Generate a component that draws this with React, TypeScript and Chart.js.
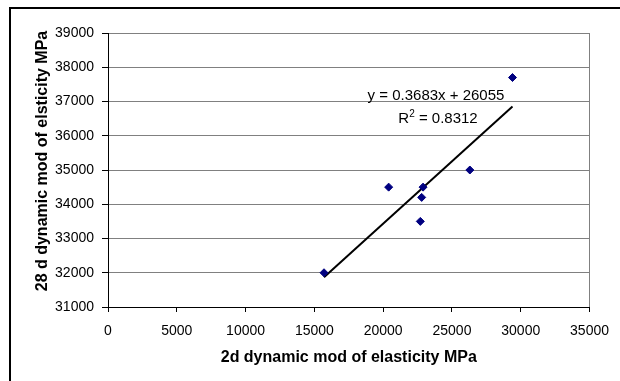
import React, { useEffect, useRef } from 'react';
import { Chart, registerables } from 'chart.js';

Chart.register(...registerables);

const xValues = [15700, 20400, 22900, 22800, 22700, 26300, 29400];
const yValues = [32000, 34500, 34500, 34200, 33500, 35000, 37700];
const xMin = 0;
const xMax = 35000;
const xStep = 5000;
const yMin = 31000;
const yMax = 39000;
const yStep = 1000;
const xAxisTitle = '2d dynamic mod of elasticity MPa';
const yAxisTitle = '28 d dynamic mod of elsticity MPa';
const equationText = 'y = 0.3683x + 26055';
const r2Text = '0.8312';

const FONT = "'Liberation Sans', Arial, sans-serif";

function fitLine(xs: number[], ys: number[]) {
  const n = xs.length;
  const mx = xs.reduce((a, b) => a + b, 0) / n;
  const my = ys.reduce((a, b) => a + b, 0) / n;
  let sxy = 0;
  let sxx = 0;
  for (let i = 0; i < n; i++) {
    sxy += (xs[i] - mx) * (ys[i] - my);
    sxx += (xs[i] - mx) * (xs[i] - mx);
  }
  const slope = sxy / sxx;
  const intercept = my - slope * mx;
  const x0 = Math.min(...xs);
  const x1 = Math.max(...xs);
  return [
    { x: x0, y: slope * x0 + intercept },
    { x: x1, y: slope * x1 + intercept },
  ];
}

const framePlugin = {
  id: 'frame',
  beforeDraw(chart: any) {
    const ctx = chart.ctx;
    ctx.save();
    ctx.fillStyle = '#ffffff';
    ctx.fillRect(0, 0, chart.width, chart.height);
    ctx.strokeStyle = '#000000';
    ctx.lineWidth = 2;
    ctx.strokeRect(10, 8, chart.width + 40, chart.height + 40);
    ctx.restore();
  },
};

const textPlugin = {
  id: 'texts',
  afterDraw(chart: any) {
    const ctx = chart.ctx;
    const area = chart.chartArea;
    ctx.save();
    ctx.fillStyle = '#000000';
    // y-axis title
    ctx.save();
    ctx.translate(43, area.top + 128);
    ctx.rotate(-Math.PI / 2);
    ctx.font = `bold 16px ${FONT}`;
    ctx.textAlign = 'center';
    ctx.textBaseline = 'middle';
    ctx.fillText(yAxisTitle, 0, 0);
    ctx.restore();
    // trendline equation
    ctx.font = `15px ${FONT}`;
    ctx.textBaseline = 'alphabetic';
    ctx.textAlign = 'center';
    const cx = area.left + 328;
    ctx.fillText(equationText, cx, area.top + 67);
    ctx.textAlign = 'left';
    const rW = ctx.measureText('R').width;
    ctx.font = `10px ${FONT}`;
    const sW = ctx.measureText('2').width;
    ctx.font = `15px ${FONT}`;
    const rest = ' = ' + r2Text;
    const restW = ctx.measureText(rest).width;
    const total = rW + sW + restW;
    let x = area.left + 330 - total / 2;
    const by = area.top + 90;
    ctx.fillText('R', x, by);
    x += rW;
    ctx.font = `10px ${FONT}`;
    ctx.fillText('2', x, by - 6);
    x += sW;
    ctx.font = `15px ${FONT}`;
    ctx.fillText(rest, x, by);
    ctx.restore();
  },
};

export default function App() {
  const ref = useRef<HTMLCanvasElement | null>(null);

  useEffect(() => {
    if (!ref.current) return;
    const points = xValues.map((x, i) => ({ x, y: yValues[i] }));
    const trend = fitLine(xValues, yValues);
    const chart = new Chart(ref.current, {
      type: 'scatter',
      data: {
        datasets: [
          {
            label: 'data',
            data: points,
            pointStyle: 'rectRot',
            pointRadius: 4,
            backgroundColor: '#000080',
            borderColor: '#000080',
            borderWidth: 1,
            showLine: false,
            order: 1,
          },
          {
            label: 'trend',
            data: trend,
            showLine: true,
            borderColor: '#000000',
            borderWidth: 2,
            pointRadius: 0,
            fill: false,
            order: 2,
          } as any,
        ],
      },
      options: {
        animation: false,
        responsive: true,
        maintainAspectRatio: false,
        layout: { padding: { left: 0, top: 33, right: 23, bottom: 0 } },
        plugins: {
          legend: { display: false },
          tooltip: { enabled: false },
        },
        scales: {
          x: {
            type: 'linear',
            min: xMin,
            max: xMax,
            afterFit(scale: any) {
              scale.height = 74;
            },
            ticks: {
              stepSize: xStep,
              color: '#000000',
              padding: 11,
              font: { family: FONT, size: 14 },
              maxRotation: 0,
              callback: (v: any) => String(v),
            },
            grid: {
              color: (c: any) => (c.tick && c.tick.value === xMax ? '#808080' : 'rgba(0,0,0,0)'),
              tickColor: '#000000',
              tickLength: 5,
              lineWidth: 1,
            },
            border: { display: true, color: '#000000', width: 1 },
            title: {
              display: true,
              text: xAxisTitle,
              color: '#000000',
              font: { family: FONT, size: 16, weight: 'bold' },
              padding: { top: 0, bottom: 14 },
            },
          },
          y: {
            type: 'linear',
            min: yMin,
            max: yMax,
            afterFit(scale: any) {
              scale.width = 108;
            },
            ticks: {
              stepSize: yStep,
              color: '#000000',
              padding: 8,
              font: { family: FONT, size: 14 },
              callback: (v: any) => String(v),
            },
            grid: {
              color: '#808080',
              tickColor: '#000000',
              tickLength: 6,
              lineWidth: 1,
            },
            border: { display: true, color: '#000000', width: 1 },
          },
        },
      },
      plugins: [framePlugin, textPlugin],
    });
    return () => chart.destroy();
  }, []);

  return (
    <div style={{ position: 'fixed', left: 0, top: 0, width: 620, height: 381, background: '#fff' }}>
      <canvas ref={ref} />
    </div>
  );
}
